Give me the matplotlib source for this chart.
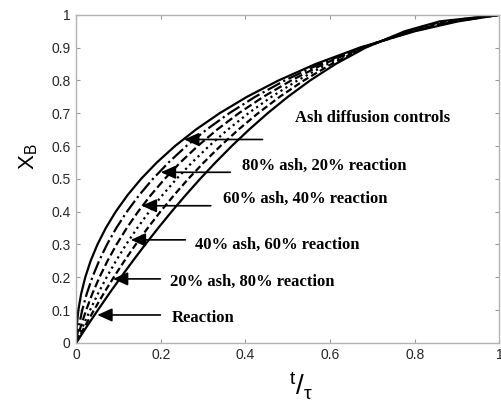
import matplotlib
matplotlib.use("Agg")
import matplotlib.pyplot as plt

# conversion X_B (shared by every curve)
x_b = [0, 0.02, 0.05, 0.1, 0.15, 0.2, 0.25, 0.3, 0.35, 0.4, 0.45, 0.5,
       0.55, 0.6, 0.65, 0.7, 0.75, 0.8, 0.85, 0.9, 0.95, 0.98, 1.0]

# t/tau for each curve
t_ash = [0, 0.0002, 0.0013, 0.0052, 0.0119, 0.0215, 0.0342, 0.0503, 0.0700, 0.0935, 0.1212, 0.1534,
         0.1907, 0.2335, 0.2826, 0.3388, 0.4034, 0.4781, 0.5654, 0.6697, 0.8002, 0.9018, 1.0]
t_80ash = [0, 0.0022, 0.0061, 0.0144, 0.0251, 0.0383, 0.0542, 0.0729, 0.0948, 0.1199, 0.1486, 0.1813,
           0.2184, 0.2603, 0.3078, 0.3615, 0.4227, 0.4930, 0.5749, 0.6725, 0.7954, 0.8932, 1.0]
t_60ash = [0, 0.0042, 0.0109, 0.0236, 0.0383, 0.0551, 0.0741, 0.0955, 0.1195, 0.1463, 0.1761, 0.2092,
           0.2461, 0.2871, 0.3329, 0.3842, 0.4420, 0.5080, 0.5843, 0.6753, 0.7907, 0.8845, 1.0]
t_40ash = [0, 0.0061, 0.0157, 0.0329, 0.0516, 0.0720, 0.0941, 0.1181, 0.1443, 0.1726, 0.2035, 0.2371,
           0.2738, 0.3139, 0.3581, 0.4069, 0.4614, 0.5229, 0.5938, 0.6782, 0.7859, 0.8759, 1.0]
t_20ash = [0, 0.0081, 0.0205, 0.0421, 0.0648, 0.0888, 0.1140, 0.1407, 0.1690, 0.1990, 0.2310, 0.2650,
           0.3015, 0.3407, 0.3832, 0.4296, 0.4807, 0.5379, 0.6032, 0.6810, 0.7812, 0.8672, 1.0]
t_reaction = [0, 0.0101, 0.0253, 0.0513, 0.0780, 0.1056, 0.1340, 0.1633, 0.1938, 0.2254, 0.2584, 0.2929,
              0.3292, 0.3675, 0.4084, 0.4523, 0.5000, 0.5528, 0.6127, 0.6838, 0.7764, 0.8586, 1.0]

labels = ["Ash diffusion controls", "80% ash, 20% reaction", "60% ash, 40% reaction",
          "40% ash, 60% reaction", "20% ash, 80% reaction", "Reaction"]
ticks = [0, 0.2, 0.4, 0.6, 0.8, 1.0]
y_ticks = [0, 0.1, 0.2, 0.3, 0.4, 0.5, 0.6, 0.7, 0.8, 0.9, 1.0]


def draw_curves(ax):
    curves = [t_ash, t_80ash, t_60ash, t_40ash, t_20ash, t_reaction]
    styles = ["-", "-.", "--", ":", (0, (3, 1.5)), "-"]
    for t, ls in zip(curves, styles):
        ax.plot(t, x_b, color="black", lw=1.6, ls=ls)


def draw_labels(ax):
    # arrow tip (t, X), arrow tail t, text start t, text X
    arrows = [(0.255, 0.62, 0.44, 0.518, 0.686),
              (0.200, 0.52, 0.364, 0.392, 0.540),
              (0.155, 0.418, 0.318, 0.348, 0.439),
              (0.129, 0.314, 0.258, 0.281, 0.299),
              (0.087, 0.195, 0.199, 0.222, 0.186),
              (0.050, 0.085, 0.199, 0.225, 0.076)]
    for (tip_t, tip_x, tail_t, txt_t, txt_x), lab in zip(arrows, labels):
        ax.annotate("", xy=(tip_t, tip_x), xytext=(tail_t, tip_x),
                    arrowprops=dict(arrowstyle="-|>,head_length=0.6,head_width=0.27",
                                    color="black", lw=1.2, mutation_scale=15,
                                    shrinkA=0, shrinkB=0))
        ax.text(txt_t, txt_x, lab, family="Liberation Serif", fontweight="bold",
                fontsize=12, ha="left", va="center")


def main():
    plt.rcParams["mathtext.fontset"] = "custom"
    plt.rcParams["mathtext.rm"] = "Liberation Sans"
    plt.rcParams["mathtext.it"] = "Liberation Sans"

    fig = plt.figure(figsize=(5.01, 4.01), dpi=100)
    ax = fig.add_axes([0.152, 0.145, 0.845, 0.818])

    draw_curves(ax)
    draw_labels(ax)

    ax.set_xlim(0, 1)
    ax.set_ylim(0, 1)
    ax.set_xticks(ticks)
    ax.set_xticklabels(["0", "0.2", "0.4", "0.6", "0.8", "1"])
    ax.set_yticks(y_ticks)
    ax.set_yticklabels(["0", "0.1", "0.2", "0.3", "0.4", "0.5", "0.6", "0.7", "0.8", "0.9", "1"])
    ax.tick_params(direction="in", length=3, width=0.8, color="0.6", top=True, right=True,
                   labelsize=10, labelcolor="0.15", pad=4)
    for lab in ax.get_xticklabels() + ax.get_yticklabels():
        lab.set_family("Liberation Sans")
    for sp in ax.spines.values():
        sp.set_color("0.7")
        sp.set_linewidth(1)

    ax.text(-0.113, 0.567, r"$\mathrm{X}_{\mathrm{B}}$", transform=ax.transAxes,
            rotation=90, fontsize=16, ha="center", va="center")
    ax.text(0.53, -0.13, r"$^{\mathrm{t}}/_{\tau}$", transform=ax.transAxes,
            fontsize=20, ha="center", va="center")

    fig.savefig("out.png", dpi=100)


if __name__ == "__main__":
    main()
